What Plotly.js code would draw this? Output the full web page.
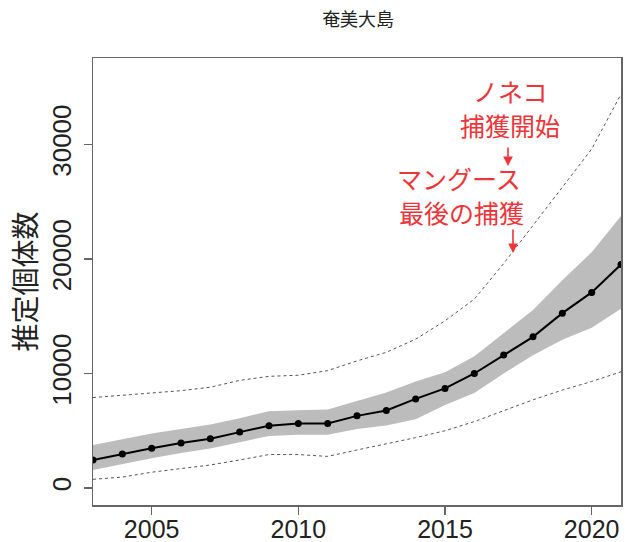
<!DOCTYPE html>
<html>
<head>
<meta charset="utf-8">
<script src="https://cdn.plot.ly/plotly-3.0.1.min.js"></script>
<style>
html,body{margin:0;padding:0;background:#fff;}
#chart{width:625px;height:542px;}
</style>
</head>
<body>
<div id="chart"></div>
<script>
const years = [2003,2004,2005,2006,2007,2008,2009,2010,2011,2012,2013,2014,2015,2016,2017,2018,2019,2020,2021];
const estimate = [2450,2970,3480,3920,4310,4880,5440,5630,5630,6300,6770,7780,8700,10000,11620,13200,15270,17080,19520];
const bandUpper = [3750,4250,4750,5150,5550,6100,6700,6800,6850,7600,8350,9300,10100,11500,13500,15550,18150,20600,23750];
const bandLower = [1570,2100,2600,3050,3450,4000,4550,4650,4650,5150,5450,6000,7250,8300,10000,11600,12950,14000,15650];
const dotUpper = [7900,8100,8300,8500,8800,9400,9750,9850,10250,11100,11850,13000,14600,16500,19600,22900,26300,29600,34400];
const dotLower = [760,950,1380,1720,2010,2450,2920,2920,2760,3320,3850,4400,5000,5800,6750,7700,8550,9300,10150];
const xTicks = [2005,2010,2015,2020];
const yTicks = [0,10000,20000,30000];
const yTickText = ["0","10000","20000","30000"];
const titleText = "奄美大島";
const yTitle = "推定個体数";

const traces = [
  {x: years, y: bandUpper, type:'scatter', mode:'lines', line:{width:0, color:'rgba(0,0,0,0)'}, hoverinfo:'skip', showlegend:false},
  {x: years, y: bandLower, type:'scatter', mode:'lines', line:{width:0, color:'rgba(0,0,0,0)'}, fill:'tonexty', fillcolor:'#bcbcbc', hoverinfo:'skip', showlegend:false},
  {x: years, y: dotUpper, type:'scatter', mode:'lines', line:{width:1, color:'#555', dash:'dot'}, showlegend:false},
  {x: years, y: dotLower, type:'scatter', mode:'lines', line:{width:1, color:'#555', dash:'dot'}, showlegend:false},
  {x: years, y: estimate, type:'scatter', mode:'lines+markers', line:{width:2, color:'#000'}, marker:{size:7, color:'#000'}, showlegend:false}
];

const red = '#ee3438';
const cjk = '"Noto Sans CJK JP", "Noto Sans CJK SC", sans-serif';
function px(xpx){ return (xpx-93)/528; }
function py(ypx){ return (505-ypx)/447; }
function ann(text, xpx, ypx, size){
  return {text:text, xref:'paper', yref:'paper', x:px(xpx), y:py(ypx),
          xanchor:'center', yanchor:'middle', showarrow:false,
          font:{family:cjk, size:size, color:red}};
}
function arrow(xpx, y0, y1){
  return {text:'', xref:'paper', yref:'paper', x:px(xpx), y:py(y1),
          axref:'pixel', ayref:'pixel', ax:0, ay:-(y1-y0),
          showarrow:true, arrowhead:2, arrowsize:1.2, arrowwidth:1.6, arrowcolor:red};
}

const layout = {
  width:625, height:542,
  margin:{l:93, r:4, t:58, b:37, pad:0},
  paper_bgcolor:'#fff', plot_bgcolor:'#fff',
  title:{text:titleText, x:0.573, xanchor:'center', y:0.963, yanchor:'middle',
         font:{family:cjk, size:18, color:'#222'}},
  xaxis:{range:[2003,2021], tickvals:xTicks, ticktext:xTicks.map(String),
         showgrid:false, zeroline:false, showline:true, mirror:true, linecolor:'#666', linewidth:1.5,
         ticks:'outside', ticklen:8, tickwidth:1.5, tickcolor:'#666', ticklabelstandoff:-7,
         tickfont:{family:'"Liberation Sans", Arial, sans-serif', size:25, color:'#222'}},
  yaxis:{range:[-1485,37555], tickvals:yTicks, ticktext:yTickText, tickangle:-90,
         showgrid:false, zeroline:false, showline:true, mirror:true, linecolor:'#666', linewidth:1.5,
         ticks:'outside', ticklen:8, tickwidth:1.5, tickcolor:'#666', ticklabelstandoff:2,
         tickfont:{family:'"Liberation Sans", Arial, sans-serif', size:26, color:'#222'},
         title:{text:yTitle, standoff:2, font:{family:cjk, size:28, color:'#222'}}},
  annotations:[
    ann('ノネコ', 510, 91, 25),
    ann('捕獲開始', 510, 125, 25),
    arrow(508, 146, 166),
    ann('マングース', 459, 178, 25),
    ann('最後の捕獲', 461, 212, 25),
    arrow(513, 228, 253)
  ]
};

Plotly.newPlot('chart', traces, layout, {displayModeBar:false, staticPlot:true});
</script>
</body>
</html>
